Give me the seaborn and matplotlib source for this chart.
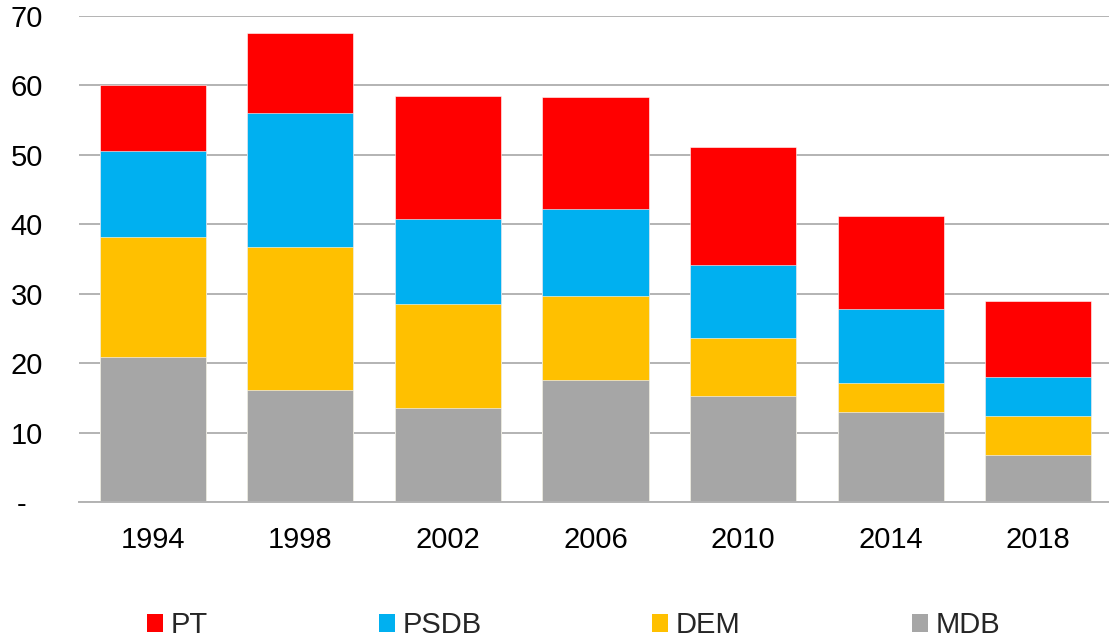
import numpy as np
import pandas as pd
import seaborn as sns
import matplotlib.pyplot as plt
from matplotlib.patches import Patch

years = ["1994", "1998", "2002", "2006", "2010", "2014", "2018"]
mdb = [20.9, 16.1, 13.5, 17.6, 15.2, 12.9, 6.7]
dem = [17.3, 20.6, 15.0, 12.1, 8.4, 4.2, 5.65]
psdb = [12.4, 19.3, 12.3, 12.5, 10.5, 10.7, 5.65]
pt = [9.4, 11.5, 17.7, 16.2, 17.1, 13.4, 10.9]

colors = {"PT": "#ff0000", "PSDB": "#00b0f0", "DEM": "#ffc000", "MDB": "#a6a6a6"}

sns.set_theme(style="white")
plt.rcParams["font.family"] = ["Liberation Sans", "DejaVu Sans"]

df = pd.DataFrame({"year": years, "MDB": mdb, "DEM": dem, "PSDB": psdb, "PT": pt})
# cumulative tops, drawn from the tallest down so they stack
stack = df[["MDB", "DEM", "PSDB", "PT"]].cumsum(axis=1)

fig = plt.figure(figsize=(11.09, 6.40), dpi=100)
ax = fig.add_axes([0.0712, 0.2156, 0.9315, 0.7594])

for party in ["PT", "PSDB", "DEM", "MDB"]:
    sns.barplot(x=df["year"], y=stack[party], color=colors[party], width=0.72,
                saturation=1, edgecolor="white", linewidth=0.4, ax=ax, zorder=2)

ax.set_ylim(0, 70)
ax.set_yticks(range(0, 71, 10))
ax.set_yticklabels(["-  "] + [str(v) for v in range(10, 71, 10)])
ax.yaxis.grid(True, color="#b3b3b3", linewidth=1.4, zorder=0)
ax.set_axisbelow(True)
for s in ["top", "right", "left"]:
    ax.spines[s].set_visible(False)
ax.spines["bottom"].set_color("#b3b3b3")
ax.spines["bottom"].set_linewidth(1.4)
ax.tick_params(axis="both", length=0, labelsize=21, colors="black")
ax.tick_params(axis="x", pad=17)
ax.tick_params(axis="y", pad=26)
ax.set_xlabel("")
ax.set_ylabel("")

handles = [Patch(facecolor=colors[p], edgecolor="none", label=p)
           for p in ["PT", "PSDB", "DEM", "MDB"]]
fig.legend(handles=handles, loc="center", bbox_to_anchor=(0.517, 0.023), ncol=4,
           frameon=False, fontsize=21, handlelength=0.55, handleheight=0.55,
           handletextpad=0.26, columnspacing=5.86, borderpad=0)

fig.savefig("out.png", dpi=100)
